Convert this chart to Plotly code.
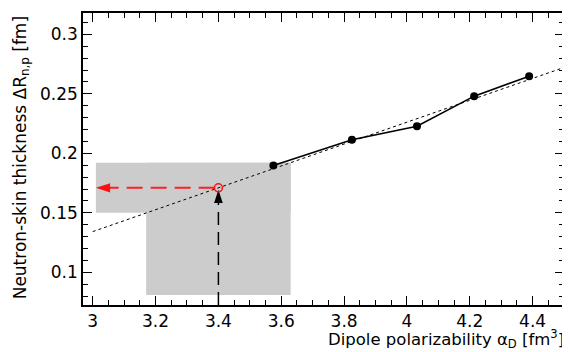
import plotly.graph_objects as go

# ---- data ----
alpha_D = [3.575, 3.825, 4.032, 4.214, 4.389]          # fm^3, model points
dR_np = [0.1897, 0.2114, 0.2228, 0.2481, 0.2649]       # fm

fit_alpha = [3.0, 4.5]                                 # linear fit, end points
fit_dR = [0.1342, 0.2722]

exp_alpha = 3.40                                       # measured alpha_D
exp_alpha_band = [3.17, 3.63]
extr_dR = 0.171                                        # extracted skin thickness
extr_dR_band = [0.150, 0.192]
band_alpha_left = 3.01
band_dR_bottom = 0.081

x_range = [2.969, 4.5]
y_range = [0.0725, 0.318]

x_ticks = [3.0, 3.2, 3.4, 3.6, 3.8, 4.0, 4.2, 4.4]
x_ticklabels = ["3", "3.2", "3.4", "3.6", "3.8", "4", "4.2", "4.4"]
y_ticks = [0.1, 0.15, 0.2, 0.25, 0.3]
y_ticklabels = ["0.1", "0.15", "0.2", "0.25", "0.3"]

FONT = "DejaVu Sans, Verdana, sans-serif"
GRAY = "#cccccc"

fig = go.Figure()

# shaded uncertainty bands
fig.add_shape(type="rect", xref="x", yref="y", layer="below",
              x0=band_alpha_left, x1=exp_alpha_band[1],
              y0=extr_dR_band[0], y1=extr_dR_band[1],
              fillcolor=GRAY, line_width=0)
fig.add_shape(type="rect", xref="x", yref="y", layer="below",
              x0=exp_alpha_band[0], x1=exp_alpha_band[1],
              y0=band_dR_bottom, y1=extr_dR_band[1],
              fillcolor=GRAY, line_width=0)

# linear fit (dashed)
fig.add_trace(go.Scatter(x=fit_alpha, y=fit_dR, mode="lines",
                         line=dict(color="black", width=1, dash="3px,3px"),
                         hoverinfo="skip"))

# model points
fig.add_trace(go.Scatter(x=alpha_D, y=dR_np, mode="lines+markers",
                         line=dict(color="black", width=1.6),
                         marker=dict(color="black", size=8)))

# vertical black dashed arrow from the axis up to the fit line
fig.add_trace(go.Scatter(x=[exp_alpha, exp_alpha], y=[y_range[0], extr_dR - 0.012],
                         mode="lines",
                         line=dict(color="black", width=1.5, dash="13px,7px"),
                         hoverinfo="skip"))
fig.add_trace(go.Scatter(x=[exp_alpha], y=[extr_dR - 0.0015], mode="markers",
                         marker=dict(symbol="arrow", angle=0, size=14, color="black",
                                     line=dict(width=0)),
                         hoverinfo="skip"))

# horizontal red dashed arrow from the fit line to the y axis
fig.add_trace(go.Scatter(x=[exp_alpha - 0.012, band_alpha_left + 0.04], y=[extr_dR, extr_dR],
                         mode="lines",
                         line=dict(color="#ff2020", width=2, dash="16px,8px"),
                         hoverinfo="skip"))
fig.add_trace(go.Scatter(x=[band_alpha_left], y=[extr_dR], mode="markers",
                         marker=dict(symbol="arrow", angle=-90, size=15, color="#ff1010",
                                     line=dict(width=0)),
                         hoverinfo="skip"))

# open red circle at the intersection
fig.add_trace(go.Scatter(x=[exp_alpha], y=[extr_dR], mode="markers",
                         marker=dict(symbol="circle-open", size=8, color="#ff1010",
                                     line=dict(width=1.5, color="#ff1010")),
                         hoverinfo="skip"))

axis_common = dict(
    showgrid=False, zeroline=False, automargin=False,
    showline=True, linecolor="black", linewidth=1.5, mirror="ticks",
    ticks="inside", ticklen=9, tickwidth=1, tickcolor="black",
    tickfont=dict(family=FONT, size=17, color="black"),
)

fig.update_xaxes(range=x_range, tickvals=x_ticks, ticktext=x_ticklabels,
                 minor=dict(ticks="inside", ticklen=5, dtick=0.05, tick0=3.0,
                            tickcolor="black", tickwidth=1),
                 **axis_common)
fig.update_yaxes(range=y_range, tickvals=y_ticks, ticktext=y_ticklabels,
                 minor=dict(ticks="inside", ticklen=5, dtick=0.01, tick0=0.0,
                            tickcolor="black", tickwidth=1),
                 **axis_common)

fig.add_annotation(text="Dipole polarizability α<sub>D</sub> [fm<sup>3</sup>]",
                   xref="paper", yref="paper", x=1.005, y=-0.117,
                   xanchor="right", yanchor="middle", showarrow=False,
                   font=dict(family=FONT, size=16.5, color="black"))
fig.add_annotation(text="Neutron-skin thickness ΔR<sub>n,p</sub> [fm]",
                   xref="paper", yref="paper", x=-0.129, y=0.997,
                   xanchor="center", yanchor="top", textangle=-90, showarrow=False,
                   font=dict(family=FONT, size=17, color="black"))

# The page body adds an 8 px margin, so the figure is sized 8 px smaller
# and the margins shifted to keep the plot area where the reference has it.
fig.update_layout(width=562, height=344,
                  margin=dict(l=75, r=6, t=5, b=47),
                  paper_bgcolor="white", plot_bgcolor="white",
                  showlegend=False)

fig.write_html("out.html")
